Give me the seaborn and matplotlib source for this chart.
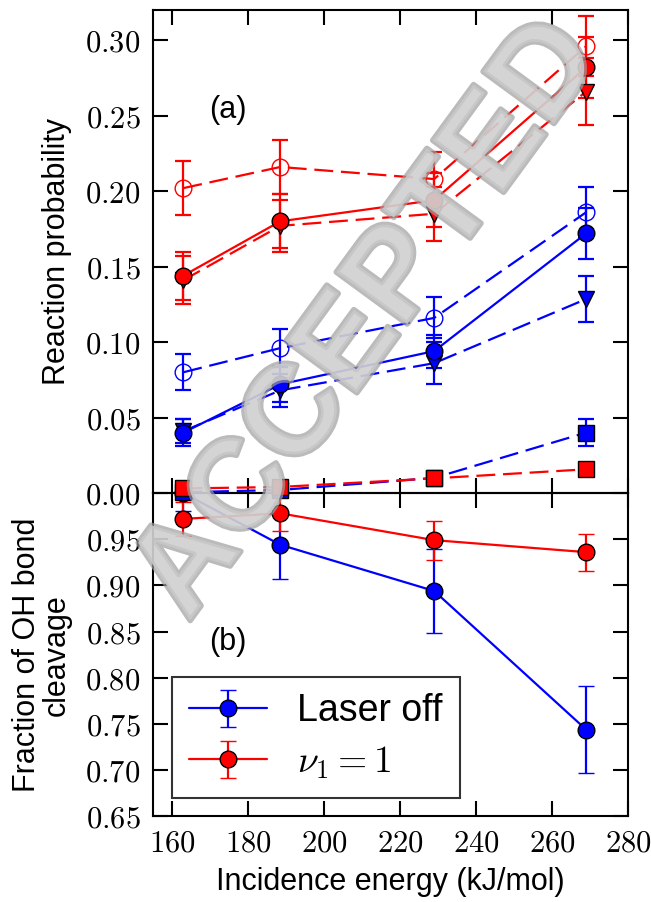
import numpy as np
import matplotlib
matplotlib.use("Agg")
import matplotlib.pyplot as plt
import matplotlib.patheffects as pe
from matplotlib.ticker import FuncFormatter
import seaborn as sns

# Incidence energies (kJ/mol)
energy = [163, 188.5, 229, 269]

# (a) reaction probability -- laser off (blue)
off_total = [0.040, 0.072, 0.094, 0.172]
off_total_err = [0.009, 0.0115, 0.011, 0.017]
off_tri = [0.041, 0.068, 0.086, 0.1285]
off_tri_err = [0.008, 0.011, 0.014, 0.015]
off_open = [0.080, 0.096, 0.116, 0.186]
off_open_err = [0.012, 0.0127, 0.0136, 0.017]
off_sq = [0.0005, 0.002, 0.010, 0.040]
off_sq_err = [0.001, 0.002, 0.003, 0.009]

# (a) reaction probability -- nu1 = 1 (red)
on_total = [0.144, 0.180, 0.194, 0.282]
on_total_err = [0.016, 0.018, 0.018, 0.020]
on_tri = [0.141, 0.177, 0.185, 0.266]
on_tri_err = [0.016, 0.017, 0.018, 0.022]
on_open = [0.202, 0.216, 0.208, 0.296]
on_open_err = [0.018, 0.018, 0.018, 0.020]
on_sq = [0.003, 0.004, 0.0097, 0.0157]
on_sq_err = [0.001, 0.001, 0.002, 0.002]

# (b) fraction of OH bond cleavage
frac_off = [1.000, 0.944, 0.894, 0.744]
frac_off_err = [0.020, 0.037, 0.045, 0.047]
frac_on = [0.972, 0.978, 0.949, 0.936]
frac_on_err = [0.018, 0.019, 0.021, 0.020]

sns.set_style("ticks")
plt.rcParams['font.family'] = ['Liberation Sans', 'DejaVu Sans']
plt.rcParams['mathtext.fontset'] = 'cm'
for k in ('text.color', 'axes.labelcolor', 'xtick.color', 'ytick.color'):
    plt.rcParams[k] = 'black'

DASH = (0, (8.5, 3.5))
LW = 1.6
MS = 12
CAP = 5.5


def series(ax, y, err, color, marker, ls, filled=True, ms=MS):
    # line + markers through seaborn, error bars through matplotlib
    ax.errorbar(energy, y, yerr=err, fmt='none', ecolor=color, elinewidth=LW,
                capsize=CAP, capthick=LW, clip_on=False, zorder=2)
    sns.lineplot(x=energy, y=y, ax=ax, color=color, linestyle=ls, linewidth=LW,
                 marker=marker, markersize=ms,
                 markerfacecolor=color if filled else 'none',
                 markeredgecolor='black' if filled else color,
                 markeredgewidth=1.0, clip_on=False, zorder=3)


fig = plt.figure(figsize=(6.51, 9.02), dpi=100)
ax1 = fig.add_axes([0.2350, 0.45344, 0.7296, 0.53547])
ax2 = fig.add_axes([0.2350, 0.09479, 0.7296, 0.35865])
ax1.set_zorder(3)
ax1.patch.set_visible(False)

# panel (a)
series(ax1, off_tri, off_tri_err, 'blue', 'v', DASH)
series(ax1, off_sq, off_sq_err, 'blue', 's', DASH, ms=11)
series(ax1, off_open, off_open_err, 'blue', 'o', DASH, filled=False)
series(ax1, off_total, off_total_err, 'blue', 'o', '-')
series(ax1, on_tri, on_tri_err, 'red', 'v', DASH)
series(ax1, on_sq, on_sq_err, 'red', 's', DASH, ms=11)
series(ax1, on_open, on_open_err, 'red', 'o', DASH, filled=False)
series(ax1, on_total, on_total_err, 'red', 'o', '-')

# panel (b)
eb1 = ax2.errorbar(energy, frac_off, yerr=frac_off_err, fmt='o-', color='blue',
                   lw=LW, ms=MS, mec='black', mew=1.0, capsize=CAP,
                   capthick=LW, label='Laser off')
eb2 = ax2.errorbar(energy, frac_on, yerr=frac_on_err, fmt='o-', color='red',
                   lw=LW, ms=MS, mec='black', mew=1.0, capsize=CAP,
                   capthick=LW, label=r'$\nu_1 = 1$')
eb1.lines[0].set_clip_on(False)
eb2.lines[0].set_clip_on(False)

fmt = FuncFormatter(lambda v, p: r'$%.2f$' % v)
fmt_x = FuncFormatter(lambda v, p: r'$%d$' % v)

for ax in (ax1, ax2):
    ax.set_xlim(155, 280)
    ax.set_xticks(np.arange(160, 281, 20))
    ax.tick_params(direction='in', length=11, width=1.5, top=True, right=True,
                   labelsize=22, pad=9, colors='black')
    for s in ax.spines.values():
        s.set_linewidth(1.5)
        s.set_color('black')
    ax.yaxis.set_major_formatter(fmt)
    ax.xaxis.set_major_formatter(fmt_x)

ax1.set_ylim(0, 0.32)
ax1.set_yticks(np.arange(0, 0.31, 0.05))
ax1.tick_params(labelbottom=False)
ax1.set_xlabel('')
ax1.set_ylabel('Reaction probability', fontsize=22)
ax1.yaxis.set_label_coords(-0.17, 0.5)
ax1.text(174.7, 0.254, '(a)', fontsize=22, ha='center', va='center')

ax2.set_ylim(0.65, 1.0)
ax2.set_yticks(np.arange(0.65, 0.96, 0.05))
ax2.set_xlabel('Incidence energy (kJ/mol)', fontsize=22, labelpad=6)
ax2.set_ylabel('Fraction of OH bond\ncleavage', fontsize=22, linespacing=1.0)
ax2.yaxis.set_label_coords(-0.17, 0.5)
ax2.text(174.7, 0.839, '(b)', fontsize=22, ha='center', va='center')

leg = ax2.legend(loc='lower left', fontsize=27, numpoints=1, fancybox=False,
                 frameon=True, handlelength=2.1, labelspacing=0.4,
                 borderaxespad=0.5, handletextpad=0.8, borderpad=0.45)
leg.get_frame().set_edgecolor('black')
leg.get_frame().set_linewidth(1.5)

# watermark
fig.text(0.567, 0.645, 'ACCEPTED', rotation=53.8, rotation_mode='anchor',
         ha='center', va='center', fontsize=92, fontweight='bold',
         color='0.82', alpha=0.7, zorder=20,
         path_effects=[pe.withStroke(linewidth=4, foreground='0.62', alpha=0.7)])

fig.savefig('out.png', dpi=100)
